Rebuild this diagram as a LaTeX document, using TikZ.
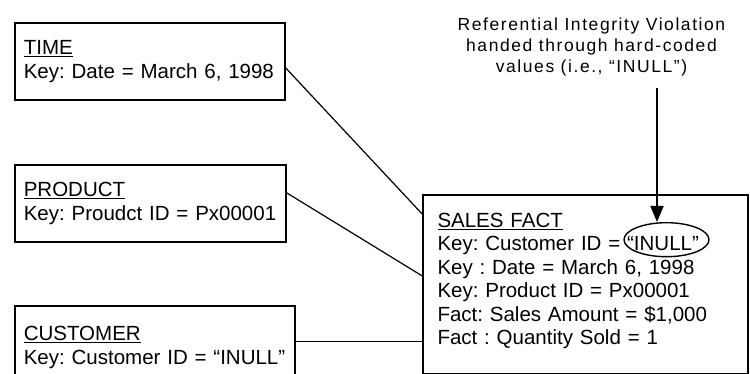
\documentclass[tikz,border=0pt]{standalone}
\usepackage{fontspec}
\setmainfont{Liberation Sans}
\newfontfamily\notefont[LetterSpace=9]{Liberation Sans}
\usepackage{tikz}
\usetikzlibrary{arrows.meta, shapes.geometric}
\frenchspacing
\newcommand{\tbltitle}[1]{\setbox0\hbox{#1}\rlap{\rule[-3pt]{\wd0}{1.5pt}}\box0}

\begin{document}
\begin{tikzpicture}[
  x=1pt, y=1pt,
  every node/.style={font=\fontsize{20.5}{24}\selectfont},
  ent/.style={rectangle, draw=black, line width=1.6pt, anchor=north west,
              align=left, inner xsep=9pt, inner ysep=0pt},
  link/.style={draw=black, line width=1.2pt},
  arr/.style={-{Triangle[length=16pt, width=13pt]}, line width=1.8pt, draw=black},
]
\useasboundingbox (0,0) rectangle (750,-374);
% dimension tables
\node[ent, text width=252pt, minimum height=77pt] (time) at (14,-22)
  {\tbltitle{TIME}\\\mbox{Key: Date = March 6, 1998}};
\node[ent, text width=253pt, minimum height=77pt] (product) at (14,-164)
  {\tbltitle{PRODUCT}\\\mbox{Key: Proudct ID = Px00001}};
\node[ent, text width=262pt, minimum height=83pt] (customer) at (14,-305)
  {\tbltitle{CUSTOMER}\\\mbox{Key: Customer ID = “INULL”}};
% fact table
\node[ent, inner xsep=14.7pt, text width=295.6pt, minimum height=179pt,
      font=\fontsize{20.5}{23.5}\selectfont] (sales) at (422,-194)
  {\tbltitle{SALES FACT}\\
   \mbox{Key: Customer ID = “INULL”}\\
   \mbox{Key : Date = March 6, 1998}\\
   \mbox{Key: Product ID = Px00001}\\
   \mbox{Fact: Sales Amount = \$1,000}\\
   \mbox{Fact : Quantity Sold = 1}\rule[-11pt]{0pt}{1pt}};
\node[ellipse, draw=black, line width=1.4pt, minimum width=85pt,
      minimum height=34pt, inner sep=0pt] (inull) at (666.5,-239.7) {};
% annotation
\node[anchor=north, align=center, inner sep=0pt,
      font=\notefont\fontsize{17.5}{21}\selectfont] (note) at (591.5,-18)
  {Referential Integrity Violation\\handed through hard-coded\\values (i.e., “INULL”)};
\coordinate (tail) at (657,-88);
\draw[link] ([yshift=-6.5]time.east) -- ([yshift=70.5]sales.west);
\draw[link] ([yshift=10.5]product.east) -- ([yshift=8.5]sales.west);
\draw[link] ([yshift=5.5]customer.east) -- ([yshift=-57.5]sales.west);
\draw[arr] (tail) -- (tail |- inull.north);
\end{tikzpicture}
\end{document}
